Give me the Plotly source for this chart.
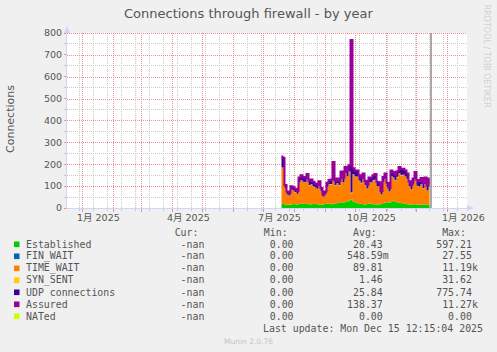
import plotly.graph_objects as go
import pandas as pd

# ---------------- data ----------------
dates = pd.date_range("2025-07-19", periods=75, freq="2D")

established = [18, 18, 16, 15, 14, 16, 18, 17, 16, 18,
               20, 19, 18, 20, 17, 16, 18, 19, 17, 15,
               14, 16, 18, 20, 19, 17, 18, 20, 22, 24,
               26, 24, 28, 30, 34, 38, 30, 26, 22, 20,
               18, 17, 16, 18, 20, 19, 17, 16, 15, 16,
               18, 22, 24, 26, 24, 30, 32, 28, 26, 24,
               22, 20, 18, 17, 16, 15, 16, 17, 16, 15,
               14, 15, 16, 15, 15]
fin_wait = [0.4, 0.5, 0.3, 0.2, 0.3, 0.4, 0.5, 0.4, 0.3, 0.6,
            0.7, 0.6, 0.5, 0.7, 0.5, 0.6, 0.5, 0.4, 0.4, 0.5,
            0.3, 0.2, 0.3, 0.5, 0.6, 0.6, 0.9, 0.5, 0.6, 0.5,
            0.7, 0.6, 0.8, 0.7, 0.8, 0.9, 0.7, 0.6, 0.7, 0.6,
            0.5, 0.7, 0.5, 0.4, 0.6, 0.6, 0.7, 0.7, 0.5, 0.5,
            0.3, 0.6, 0.7, 0.5, 0.4, 0.8, 0.7, 0.6, 0.7, 0.8,
            0.8, 0.8, 0.7, 0.6, 0.5, 0.4, 0.6, 0.7, 0.5, 0.5,
            0.6, 0.5, 0.6, 0.4, 0.6]
time_wait = [166, 165, 73, 46, 42, 67, 60, 55, 48, 98,
             104, 99, 98, 109, 86, 90, 80, 73, 69, 85,
             60, 34, 44, 75, 87, 91, 160, 83, 89, 79,
             114, 90, 130, 112, 131, 28, 122, 116, 120, 104,
             95, 114, 87, 70, 96, 95, 107, 112, 83, 80,
             44, 96, 107, 67, 50, 114, 105, 98, 114, 132,
             126, 130, 124, 113, 82, 69, 93, 116, 84, 81,
             93, 73, 92, 63, 90]
syn_sent = [1.2, 1.3, 1.0, 0.9, 0.9, 1.1, 1.2, 1.1, 1.0, 1.5,
            1.6, 1.5, 1.4, 1.7, 1.4, 1.5, 1.3, 1.2, 1.2, 1.4,
            1.0, 0.8, 0.9, 1.3, 1.5, 1.5, 2.2, 1.4, 1.5, 1.4,
            1.8, 1.5, 2.0, 1.8, 2.0, 3.5, 1.9, 1.8, 1.8, 1.6,
            1.5, 1.7, 1.4, 1.2, 1.6, 1.5, 1.6, 1.7, 1.4, 1.3,
            0.9, 1.5, 1.7, 1.3, 1.0, 1.8, 1.7, 1.6, 1.7, 2.0,
            1.9, 1.9, 1.8, 1.7, 1.5, 1.3, 1.5, 1.7, 1.4, 1.3,
            1.5, 1.3, 1.6, 1.2, 1.5]
udp = [50, 45, 14, 12, 12, 14, 15, 14, 12, 22,
       24, 22, 20, 24, 20, 22, 20, 18, 18, 20,
       15, 10, 12, 18, 20, 20, 30, 20, 22, 20,
       25, 22, 28, 26, 28, 700, 28, 26, 28, 24,
       22, 25, 20, 18, 22, 22, 24, 25, 20, 20,
       14, 22, 25, 20, 16, 26, 26, 24, 26, 30,
       28, 28, 28, 26, 22, 20, 24, 30, 26, 24,
       28, 24, 30, 22, 28]
assured = [236, 230, 105, 75, 70, 99, 95, 88, 78, 140,
           150, 142, 138, 155, 125, 130, 120, 112, 106, 122,
           91, 62, 76, 115, 128, 130, 210, 125, 135, 125,
           167, 138, 188, 170, 195, 768, 182, 170, 172, 150,
           137, 158, 125, 108, 140, 138, 150, 155, 120, 118,
           78, 142, 158, 115, 92, 172, 165, 152, 168, 188,
           178, 180, 172, 158, 122, 106, 135, 165, 128, 122,
           137, 114, 140, 102, 135]

# clipped spike at the last update (max values)
spike_date = "2025-12-15 12:00"
spike_values = [0, 11270]

x_range = ["2024-12-16 12:00", "2026-01-20 12:00"]
y_range = [0, 800]
label_dates = ["2025-01-17", "2025-04-17", "2025-07-17", "2025-10-17", "2026-01-17"]
label_text = ["1月 2025", "4月 2025", "7月 2025", "10月 2025", "1月 2026"]
month_starts = pd.date_range("2025-01-01", "2026-01-01", freq="MS")
y_major = list(range(100, 801, 100))

legend_names = ["Established", "FIN_WAIT", "TIME_WAIT", "SYN_SENT",
                "UDP connections", "Assured", "NATed"]
legend_colors = ["#00CC00", "#0066B3", "#FF8000", "#FFCC00",
                 "#330099", "#990099", "#CCFF00"]
cur_vals = ["-nan", "-nan", "-nan", "-nan", "-nan", "-nan", "-nan"]
min_vals = ["0.00", "0.00", "0.00", "0.00", "0.00", "0.00", "0.00"]
avg_vals = ["20.43", "548.59m", "89.81", "1.46", "25.84", "138.37", "0.00"]
max_vals = ["597.21", "27.55", "11.19k", "31.62", "775.74", "11.27k", "0.00"]

title = "Connections through firewall - by year"
last_update = "Last update: Mon Dec 15 12:15:04 2025"

# ---------------- layout helpers ----------------
W, H = 497, 352
L, R, T, B = 67, 30, 33, 144
PW, PH = W - L - R, H - T - B
UPP = (y_range[1] - y_range[0]) / PH  # value units per pixel


def px(x):
    return (x - L) / PW


def py(y):
    return (H - B - y) / PH


NB = "\u00a0"
FONT = "DejaVu Sans, Noto Sans CJK SC, sans-serif"
MONO = "DejaVu Sans Mono, monospace"
TXT = "#555555"
MGRID = "#EE8E8E"
GRID = "#CACACA"
AXIS = "#CFD6F8"
DOT = "1px,1px"

fig = go.Figure()

# major (red, dotted) grid drawn as line traces beneath the data
gx, gy = [], []
for m in month_starts:
    gx += [m, m, None]
    gy += [y_range[0], y_range[1], None]
fig.add_trace(go.Scatter(x=gx, y=gy, mode="lines", cliponaxis=True,
                         line=dict(color=MGRID, width=1, dash=DOT),
                         showlegend=False, hoverinfo="skip"))
hx, hy = [], []
for v in y_major:
    vv = (round(v / UPP) - 0.5) * UPP        # snap to a pixel row centre
    hx += [pd.Timestamp(x_range[0]), pd.Timestamp(x_range[1]), None]
    hy += [vv, vv, None]
fig.add_trace(go.Scatter(x=hx, y=hy, mode="lines",
                         line=dict(color=MGRID, width=1, dash=DOT),
                         showlegend=False, hoverinfo="skip"))

stack = [
    ("Established", established, legend_colors[0]),
    ("FIN_WAIT", fin_wait, legend_colors[1]),
    ("TIME_WAIT", time_wait, legend_colors[2]),
    ("SYN_SENT", syn_sent, legend_colors[3]),
    ("UDP connections", udp, legend_colors[4]),
]
for name, vals, col in stack:
    fig.add_trace(go.Scatter(
        x=dates, y=vals, name=name, mode="lines", stackgroup="s",
        line=dict(width=0, color=col, shape="hvh"), fillcolor=col,
        showlegend=False, hoverinfo="skip"))

fig.add_trace(go.Scatter(
    x=dates, y=assured, name="Assured", mode="lines",
    line=dict(width=2, color=legend_colors[5], shape="hvh"),
    showlegend=False, hoverinfo="skip"))

fig.add_trace(go.Scatter(
    x=[spike_date, spike_date], y=spike_values, mode="lines",
    line=dict(width=1.5, color="#8c8c8c"),
    showlegend=False, hoverinfo="skip"))

fig.update_layout(
    width=W, height=H,
    margin=dict(l=L, r=R, t=T, b=B),
    paper_bgcolor="#F0F0F0", plot_bgcolor="#FFFFFF",
    showlegend=False,
    xaxis=dict(
        type="date", range=x_range,
        tickmode="linear", tick0="2025-01-01", dtick="M1",
        showgrid=False,
        ticks="outside", ticklen=3, tickcolor=MGRID,
        showticklabels=False, zeroline=False,
        showline=True, linecolor=AXIS, linewidth=1,
        minor=dict(tickmode="linear", tick0="2024-12-29", dtick=14 * 86400000,
                   showgrid=True, gridcolor=GRID, griddash=DOT,
                   gridwidth=1, ticks="outside", ticklen=2, tickcolor=GRID),
    ),
    yaxis=dict(
        range=y_range, tickmode="linear", tick0=0, dtick=100,
        showgrid=False,
        ticks="outside", ticklen=2, tickcolor=MGRID, zeroline=False,
        tickfont=dict(family=FONT, size=9.5, color=TXT),
        showline=True, linecolor=AXIS, linewidth=1,
        minor=dict(tickmode="linear", tick0=0, dtick=50, showgrid=True,
                   gridcolor=GRID, griddash=DOT, gridwidth=1,
                   ticks="outside", ticklen=2, tickcolor=GRID),
    ),
)

ann = []


def text(x, y, s, size, color=TXT, family=FONT, xanchor="left", angle=0, xref="paper"):
    ann.append(dict(x=px(x) if xref == "paper" else x, y=py(y), xref=xref, yref="paper",
                    text=s, showarrow=False, xanchor=xanchor, yanchor="middle",
                    textangle=angle, borderpad=0, borderwidth=0,
                    font=dict(family=family, size=size, color=color)))


for d, lab in zip(label_dates, label_text):
    text(d, 217.8, lab, 9.5, xanchor="center", xref="x")

text(248, 13.5, title, 13, xanchor="center")
text(10, 119, "Connections", 11, xanchor="center", angle=-90)
text(487.3, 56, "RRDTOOL / TOBI OETIKER", 8, color="#D0D0D0",
     xanchor="center", angle=90)

header = " " * 18 + f"{'Cur:':>11}{'Min:':>15}{'Avg:':>15}{'Max:':>15}"
text(26, 232.3, header.replace(" ", NB), 9.9, family=MONO)

shapes = []
for i, name in enumerate(legend_names):
    yc = 244.3 + 12 * i
    a = avg_vals[i] if avg_vals[i][-1].isalpha() else avg_vals[i] + " "
    m = max_vals[i] if max_vals[i][-1].isalpha() else max_vals[i] + " "
    row = f"{name:<18}{cur_vals[i]:>12}{min_vals[i]:>15}{a:>16}{m:>15}"
    text(26, yc, row.replace(" ", NB), 9.9, family=MONO)
    shapes.append(dict(type="rect", xref="paper", yref="paper",
                       x0=px(14), x1=px(19.5), y0=py(yc + 2.8), y1=py(yc - 2.8),
                       fillcolor=legend_colors[i], line=dict(width=0)))

text(483, 328.3, last_update.replace(" ", NB), 9.9, family=MONO, xanchor="right")
text(248.5, 341, "Munin 2.0.76", 7.5, color="#C4C4C4", xanchor="center")

# axis arrows
shapes.append(dict(type="path", xref="paper", yref="paper",
                   path=f"M {px(67)},{py(26)} L {px(64)},{py(33)} L {px(70)},{py(33)} Z",
                   fillcolor=AXIS, line=dict(width=0)))
shapes.append(dict(type="path", xref="paper", yref="paper",
                   path=f"M {px(474)},{py(208)} L {px(467)},{py(205)} L {px(467)},{py(211)} Z",
                   fillcolor=AXIS, line=dict(width=0)))

fig.update_layout(annotations=ann, shapes=shapes)
fig.write_html("out.html")
